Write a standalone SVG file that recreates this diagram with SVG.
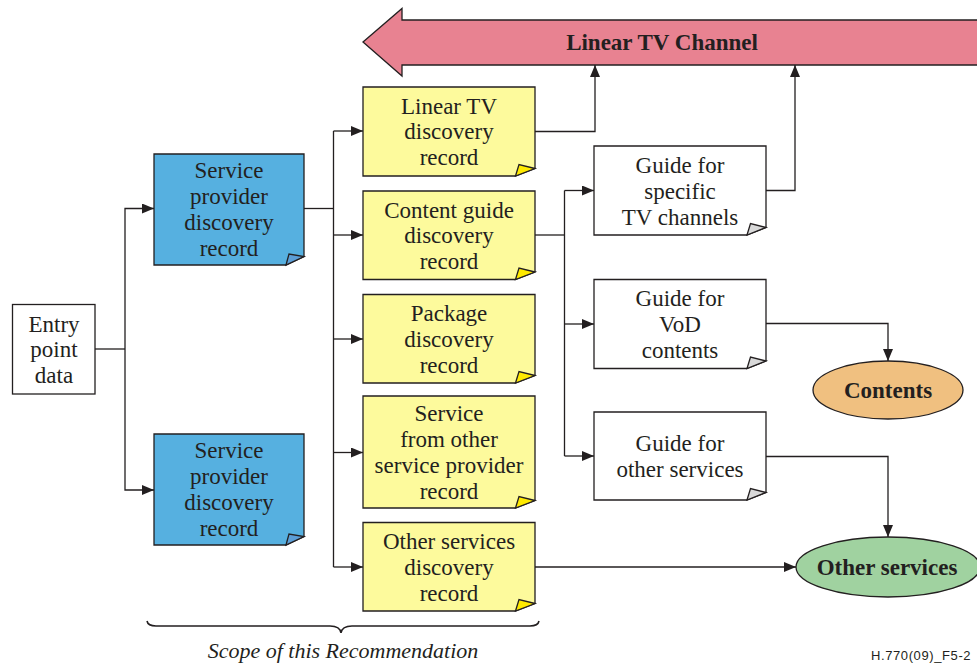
<svg xmlns="http://www.w3.org/2000/svg" width="977" height="664" viewBox="0 0 977 664">
<defs>
<marker id="ah" markerUnits="userSpaceOnUse" markerWidth="13" markerHeight="11" refX="12" refY="5" orient="auto">
<path d="M0,0 L12,5 L0,10 z" fill="#231F20"/>
</marker>
<style>
.t{font-family:"Liberation Serif","Times New Roman",serif;font-size:23px;fill:#231F20;text-anchor:middle}
.b{font-weight:bold}
.box{stroke:#231F20;stroke-width:1.3}
.y{fill:#FDFA9C}
.yf{fill:#FFEA00}
.bl{fill:#56B0E0}
.blf{fill:#5C9ED6}
.w{fill:#FFFFFF}
.wf{fill:#D9D9D9}
.c{fill:none;stroke:#231F20;stroke-width:1.3}
.ca{fill:none;stroke:#231F20;stroke-width:1.3;marker-end:url(#ah)}
</style>
</defs>
<rect width="977" height="664" fill="#FFFFFF"/>

<g id="linear-tv-channel">
<polygon class="box" fill="#E88291" points="363,42 402,8.5 402,20 985,20 985,65 402,65 402,76"/>
<text class="t b" x="662" y="50">Linear TV Channel</text>
</g>

<g id="entry-point">
<rect class="box w" x="12.5" y="304.5" width="82.5" height="89.5"/>
<text class="t" x="54" y="331.5">Entry</text>
<text class="t" x="54" y="357">point</text>
<text class="t" x="54" y="382.5">data</text>
</g>

<g id="sp-record-1">
<path class="box bl" d="M154,154 H304 V256.5 L286,265 H154 Z"/>
<path class="box blf" d="M286,265 L289,254 L304,256.5 Z"/>
<text class="t" x="229" y="178">Service</text>
<text class="t" x="229" y="204">provider</text>
<text class="t" x="229" y="229.5">discovery</text>
<text class="t" x="229" y="255.5">record</text>
</g>

<g id="sp-record-2">
<path class="box bl" d="M154,434 H304 V536.5 L286,545 H154 Z"/>
<path class="box blf" d="M286,545 L289,534 L304,536.5 Z"/>
<text class="t" x="229" y="458">Service</text>
<text class="t" x="229" y="484">provider</text>
<text class="t" x="229" y="509.5">discovery</text>
<text class="t" x="229" y="535.5">record</text>
</g>

<g id="linear-tv-record">
<path class="box y" d="M363,87 H535 V168.5 L515.5,176 H363 Z"/>
<path class="box yf" d="M515.5,176 L519,164.5 L535,168.5 Z"/>
<text class="t" x="449" y="113.5">Linear TV</text>
<text class="t" x="449" y="139">discovery</text>
<text class="t" x="449" y="165">record</text>
</g>

<g id="content-guide-record">
<path class="box y" d="M363,191 H535 V272 L515.5,279.5 H363 Z"/>
<path class="box yf" d="M515.5,279.5 L519,268 L535,272 Z"/>
<text class="t" x="449" y="217.5">Content guide</text>
<text class="t" x="449" y="243">discovery</text>
<text class="t" x="449" y="269">record</text>
</g>

<g id="package-record">
<path class="box y" d="M363,294.5 H535 V375.5 L515.5,383 H363 Z"/>
<path class="box yf" d="M515.5,383 L519,371.5 L535,375.5 Z"/>
<text class="t" x="449" y="321">Package</text>
<text class="t" x="449" y="346.5">discovery</text>
<text class="t" x="449" y="372.5">record</text>
</g>

<g id="other-sp-record">
<path class="box y" d="M363,396 H535 V500.5 L515.5,508 H363 Z"/>
<path class="box yf" d="M515.5,508 L519,496.5 L535,500.5 Z"/>
<text class="t" x="449" y="421">Service</text>
<text class="t" x="449" y="446.5">from other</text>
<text class="t" x="449" y="472.5">service provider</text>
<text class="t" x="449" y="498.5">record</text>
</g>

<g id="other-services-record">
<path class="box y" d="M363,522.5 H535 V603.5 L515.5,611 H363 Z"/>
<path class="box yf" d="M515.5,611 L519,599.5 L535,603.5 Z"/>
<text class="t" x="449" y="549">Other services</text>
<text class="t" x="449" y="574.5">discovery</text>
<text class="t" x="449" y="600.5">record</text>
</g>

<g id="guide-specific">
<path class="box w" d="M594,146 H766 V227.5 L747,235 H594 Z"/>
<path class="box wf" d="M747,235 L750.5,223.5 L766,227.5 Z"/>
<text class="t" x="680" y="172.5">Guide for</text>
<text class="t" x="680" y="198.5">specific</text>
<text class="t" x="680" y="224.5">TV channels</text>
</g>

<g id="guide-vod">
<path class="box w" d="M594,279.5 H766 V361 L747,368.5 H594 Z"/>
<path class="box wf" d="M747,368.5 L750.5,357 L766,361 Z"/>
<text class="t" x="680" y="306">Guide for</text>
<text class="t" x="680" y="331.5">VoD</text>
<text class="t" x="680" y="357.5">contents</text>
</g>

<g id="guide-other">
<path class="box w" d="M594,412 H766 V492.5 L747,500 H594 Z"/>
<path class="box wf" d="M747,500 L750.5,488.5 L766,492.5 Z"/>
<text class="t" x="680" y="450.5">Guide for</text>
<text class="t" x="680" y="476.5">other services</text>
</g>

<g id="contents">
<ellipse class="box" fill="#F0C080" cx="888" cy="390" rx="75" ry="29"/>
<text class="t b" x="888" y="398">Contents</text>
</g>

<g id="other-services">
<ellipse class="box" fill="#A0D2A0" cx="888" cy="567" rx="92" ry="30"/>
<text class="t b" x="887" y="575">Other services</text>
</g>

<g id="connectors">
<path class="c" d="M95,349 H125"/>
<path class="ca" d="M125,349 V208.5 H154"/>
<path class="ca" d="M125,349 V490 H154"/>
<path class="c" d="M304,208.5 H333.5"/>
<path class="c" d="M333.5,131 V567"/>
<path class="ca" d="M333.5,131 H363"/>
<path class="ca" d="M333.5,235 H363"/>
<path class="ca" d="M333.5,339 H363"/>
<path class="ca" d="M333.5,452.5 H363"/>
<path class="ca" d="M333.5,567 H363"/>
<path class="ca" d="M535,131.5 H595 V65"/>
<path class="c" d="M535,235 H564.5"/>
<path class="c" d="M564.5,190.5 V456"/>
<path class="ca" d="M564.5,190.5 H594"/>
<path class="ca" d="M564.5,324 H594"/>
<path class="ca" d="M564.5,456 H594"/>
<path class="ca" d="M766,190.5 H795 V65"/>
<path class="ca" d="M766,323.5 H888 V361"/>
<path class="ca" d="M766,456.5 H888 V537"/>
<path class="ca" d="M535,567 H796"/>
</g>

<g id="scope">
<path class="c" style="stroke-width:1.6" d="M147,621 Q148,626 156,626 H330 Q340,626 341,633 Q342,626 352,626 H530 Q538,626 539,621"/>
<text x="343" y="658" style="font-family:'Liberation Serif','Times New Roman',serif;font-size:22px;font-style:italic;fill:#231F20;text-anchor:middle">Scope of this Recommendation</text>
</g>

<text x="871" y="659.5" style="font-family:'Liberation Sans',Arial,sans-serif;font-size:13px;letter-spacing:0.6px;fill:#231F20">H.770(09)_F5-2</text>
</svg>
